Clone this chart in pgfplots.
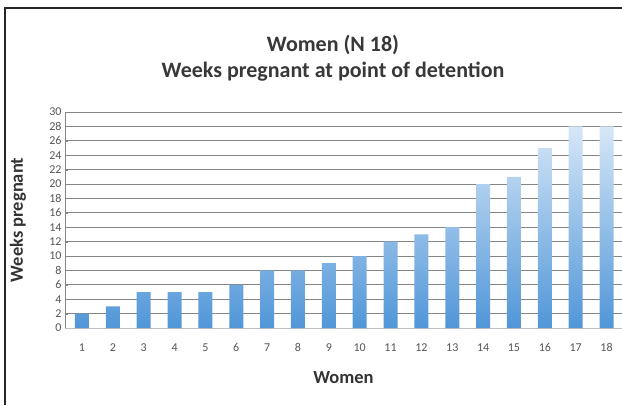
\documentclass[border=0pt]{standalone}
\usepackage{pgfplots}
\pgfplotsset{compat=1.18}
\usepackage{fontspec}
\setmainfont{Carlito}
\definecolor{barTop}{HTML}{D6E7F7}
\definecolor{barBot}{HTML}{5096D8}
\definecolor{gridc}{HTML}{858585}
\definecolor{tickc}{HTML}{555555}
\begin{document}
\begin{tikzpicture}[x=1pt,y=1pt]
\path[use as bounding box] (0,0) rectangle (622,405);
\draw[line width=1.1pt, black!85] (5,0) -- (5,397) -- (622,397);
\node[font=\fontsize{22}{26}\selectfont\bfseries, text=black!78, anchor=base] at (333,353) {Women (N 18)};
\node[font=\fontsize{22}{26}\selectfont\bfseries, text=black!78, anchor=base] at (333,327) {Weeks pregnant at point of detention};
\begin{axis}[
  at={(65pt,77pt)}, anchor=south west,
  scale only axis, width=557pt, height=216pt,
  ymin=0, ymax=30, ytick={0,2,...,30},
  xmin=0.45, xmax=18.5,
  xtick={1,...,18},
  ymajorgrids, grid style={gridc, line width=1pt},
  axis x line*=bottom, axis y line*=left,
  x axis line style={black!25, line width=0.6pt},
  y axis line style={gridc, line width=0.7pt},
  xtick style={draw=none},
  ytick style={gridc}, major tick length=3pt,
  tick label style={font=\fontsize{12}{14}\selectfont, text=tickc},
  /pgf/number format/assume math mode=true,
  xticklabel style={yshift=-12pt},
  ylabel={\textbf{Weeks pregnant}}, xlabel={\textbf{Women}},
  label style={font=\fontsize{18.5}{21}\selectfont, text=black!80},
  ylabel style={at={(axis description cs:-0.0844,0.5)}, anchor=center},
  xlabel style={at={(axis description cs:0.5,-0.231)}, anchor=center},
  clip=false,
]
\addplot[ybar, bar width=14pt, draw=none, top color=barTop, bottom color=barBot, shading angle=0]
coordinates {(1,2) (2,3) (3,5) (4,5) (5,5) (6,6) (7,8) (8,8) (9,9) (10,10) (11,12) (12,13) (13,14) (14,20) (15,21) (16,25) (17,28) (18,28)};
\end{axis}
\end{tikzpicture}
\end{document}
